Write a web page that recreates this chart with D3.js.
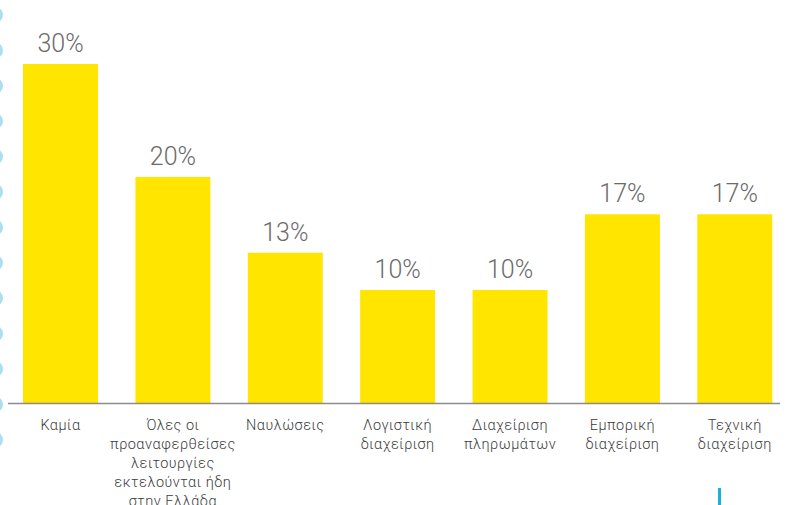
<!DOCTYPE html>
<html>
<head>
<meta charset="utf-8">
<script src="https://cdn.jsdelivr.net/npm/d3@7"></script>
<style>
  body { margin: 0; background: #fff; }
  svg { display: block; }
  .value { font-family: Roboto, "Noto Sans", sans-serif; font-weight: 300; fill: #6b6b6b; }
  .cat { font-family: Roboto, "Noto Sans", sans-serif; font-weight: 300; fill: #3c3c3c; letter-spacing: 0.5px; }
</style>
</head>
<body>
<script>
// Data
const categories = [
  'Καμία',
  'Όλες οι|προαναφερθείσες|λειτουργίες|εκτελούνται ήδη|στην Ελλάδα',
  'Ναυλώσεις',
  'Λογιστική|διαχείριση',
  'Διαχείριση|πληρωμάτων',
  'Εμπορική|διαχείριση',
  'Τεχνική|διαχείριση',
];
const values = [30, 20, 13.3, 10, 10, 16.7, 16.7];

// SVG Canvas
const width = 798;
const height = 505;
const baseline = 403;

const svg = d3.select('body')
  .append('svg')
    .attr('width', width)
    .attr('height', height);

// decorative dots on the left edge
const dotY = d3.range(13).map((i) => 15 + i * 35.4);
svg.selectAll('circle.dot')
    .data(dotY)
  .enter().append('circle')
    .attr('class', 'dot')
    .attr('cx', -5)
    .attr('cy', (d) => d)
    .attr('r', 8)
    .attr('fill', '#aadff0');

// Scales
const x = d3.scaleBand()
  .domain(categories)
  .range([4.3, 791])
  .paddingInner(0.333)
  .paddingOuter(0.1667);

const y = d3.scaleLinear()
  .domain([0, 30])
  .range([baseline, 64]);

// Bars
svg.selectAll('rect.bar')
    .data(values)
  .enter().append('rect')
    .attr('class', 'bar')
    .attr('x', (d, i) => x(categories[i]))
    .attr('y', (d) => y(d))
    .attr('width', x.bandwidth())
    .attr('height', (d) => baseline - y(d))
    .attr('fill', '#ffe500');

// Value labels
svg.selectAll('text.value')
    .data(values)
  .enter().append('text')
    .attr('class', 'value')
    .attr('x', (d, i) => x(categories[i]) + x.bandwidth() / 2)
    .attr('y', (d) => y(d) - 12)
    .attr('text-anchor', 'middle')
    .attr('font-size', 25)
    .text((d) => Math.round(d) + '%');

// Axis line
svg.append('line')
    .attr('x1', 8)
    .attr('x2', 780)
    .attr('y1', baseline + 0.5)
    .attr('y2', baseline + 0.5)
    .attr('stroke', '#8c8c8c')
    .attr('stroke-width', 1.5);

// Category labels
const cats = svg.selectAll('text.cat')
    .data(categories)
  .enter().append('text')
    .attr('class', 'cat')
    .attr('text-anchor', 'middle')
    .attr('font-size', 14.5)
    .attr('x', (d) => x(d) + x.bandwidth() / 2)
    .attr('y', 430);

cats.selectAll('tspan')
    .data((d) => d.split('|').map((t) => ({ t, cx: x(d) + x.bandwidth() / 2 })))
  .enter().append('tspan')
    .attr('x', (d) => d.cx)
    .attr('dy', (d, i) => (i === 0 ? 0 : 19))
    .text((d) => d.t);

// small blue mark at the bottom
svg.append('rect')
    .attr('x', 718)
    .attr('y', 488)
    .attr('width', 3)
    .attr('height', 20)
    .attr('fill', '#1ab0da');
</script>
</body>
</html>
